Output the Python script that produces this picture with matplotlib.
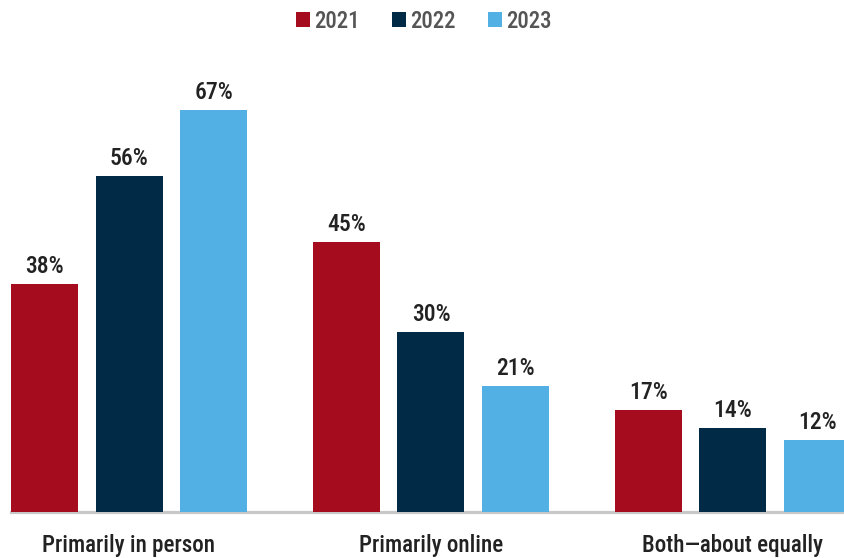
import numpy as np
import matplotlib
matplotlib.use("Agg")
import matplotlib.pyplot as plt

plt.rcParams['font.family'] = ['Roboto Condensed', 'Liberation Sans Narrow', 'DejaVu Sans']
plt.rcParams['font.weight'] = 'medium'

# survey shares by year
categories = ["Primarily in person", "Primarily online", "Both\u2014about equally"]
years = ["2021", "2022", "2023"]
share_2021 = [38, 45, 17]
share_2022 = [56, 30, 14]
share_2023 = [67, 21, 12]
colors = ["#A50D1E", "#002A46", "#53B0E4"]

fig = plt.figure(figsize=(8.44, 5.58), dpi=100)
ax = fig.add_axes([11 / 844, 46 / 558, 833 / 844, 450 / 558])

x = np.arange(len(categories))
step = 84.5 / 302
width = 67 / 302
bars = []
for i, vals in enumerate([share_2021, share_2022, share_2023]):
    b = ax.bar(x + (i - 1) * step, vals, width, color=colors[i], label=years[i], zorder=2)
    bars.append(b)
    for rect, v in zip(b, vals):
        ax.annotate(f"{v}%", (rect.get_x() + rect.get_width() / 2, v),
                    xytext=(0, 4.5), textcoords="offset points",
                    ha="center", va="bottom", fontsize=17, color="#222222",
                    clip_on=False)

ax.set_xlim(-118 / 302, 2 + 111 / 302)
ax.set_ylim(0, 75)
for s in ["top", "right", "left"]:
    ax.spines[s].set_visible(False)
ax.spines["bottom"].set_color("#c8c8c8")
ax.spines["bottom"].set_linewidth(2.3)
ax.spines["bottom"].set_zorder(1)
ax.set_yticks([])
ax.set_xticks(x)
ax.set_xticklabels(categories, fontsize=16.6, color="#222222")
ax.tick_params(axis="x", length=0, pad=16)

fig.legend(handles=bars, labels=years, ncol=3, loc="center",
           bbox_to_anchor=(424 / 844, 1 - 21 / 558), frameon=False,
           fontsize=16.5, labelcolor="#555555", handlelength=0.6,
           handleheight=0.6, handletextpad=0.2, columnspacing=1.4)

fig.savefig("out.png", dpi=100)
